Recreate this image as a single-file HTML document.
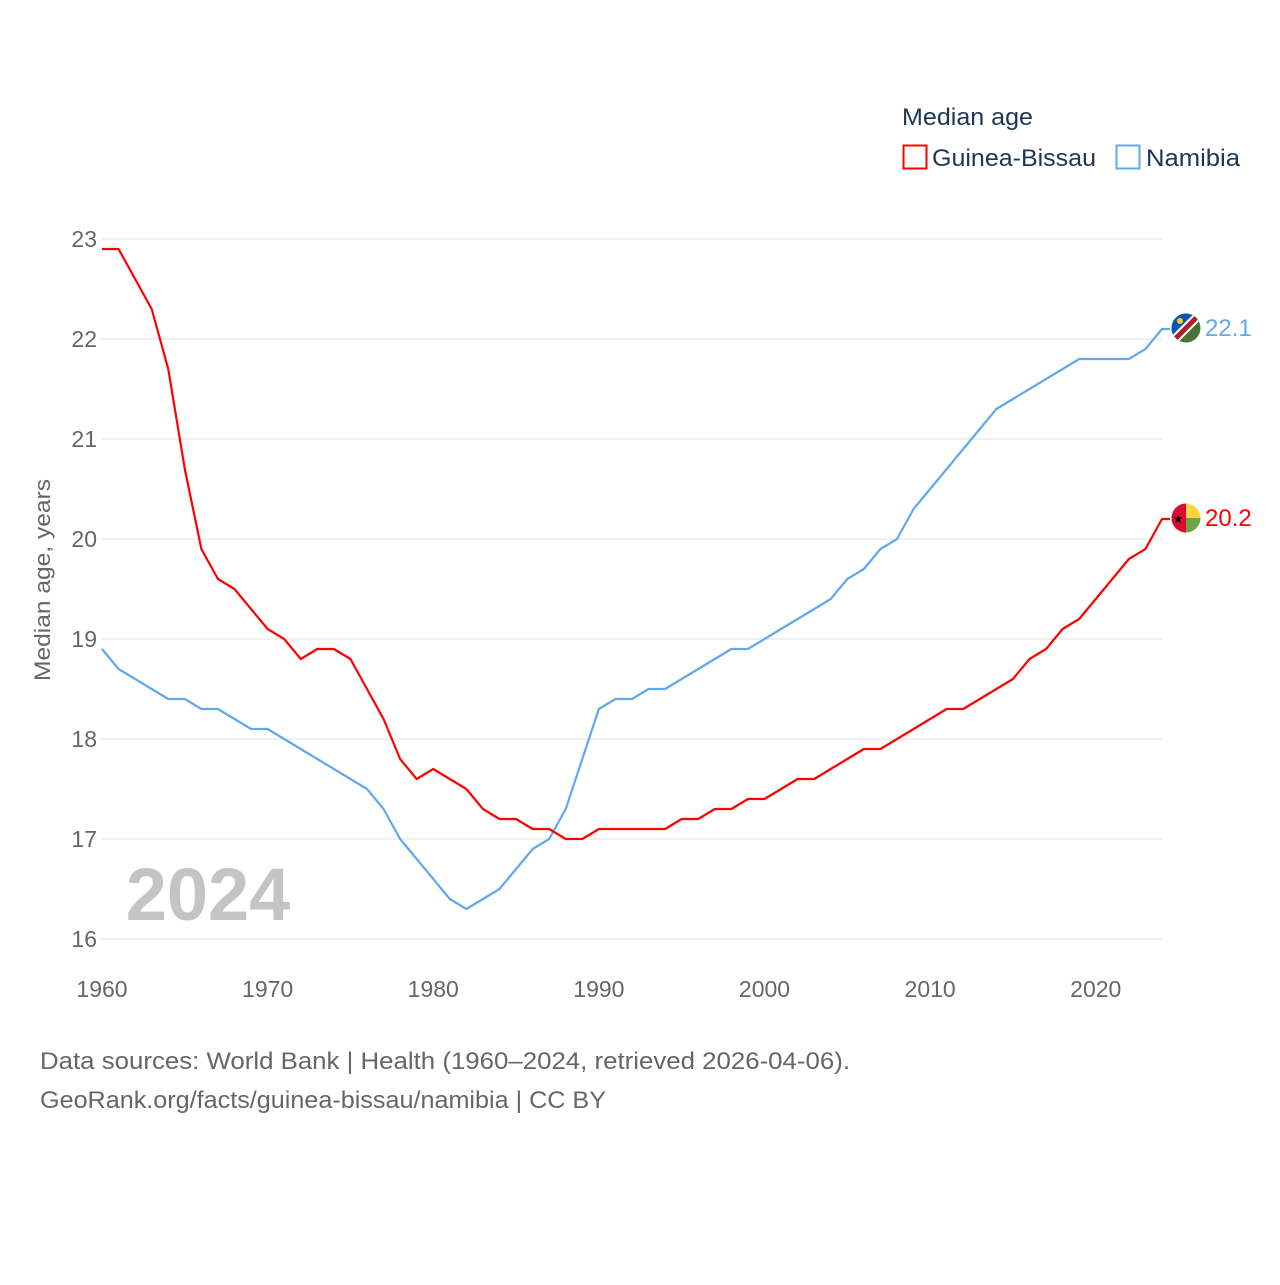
<!DOCTYPE html>
<html><head><meta charset="utf-8"><style>
html,body{margin:0;padding:0;background:#fff;}
svg text{font-family:"Liberation Sans",sans-serif;}
</style></head><body>
<svg id="chart" width="1280" height="1280" viewBox="0 0 1280 1280" xmlns="http://www.w3.org/2000/svg">
<g id="grid"></g>
<g id="yticks"></g>
<g id="xticks"></g>
<text x="208" y="920" font-size="74" font-weight="bold" fill="#c4c4c4" text-anchor="middle">2024</text>
<text transform="translate(50,580) rotate(-90)" font-size="22" fill="#666" text-anchor="middle" textLength="202" lengthAdjust="spacingAndGlyphs">Median age, years</text>
<g id="series"></g>
<g>
<text x="902" y="125" font-size="24" fill="#1d3557" textLength="131" lengthAdjust="spacingAndGlyphs">Median age</text>
<g>
<rect x="903.5" y="145.5" width="23" height="23" fill="none" stroke="#ff0000" stroke-width="2"/>
<text x="932" y="166" font-size="24" fill="#1d3557" textLength="164" lengthAdjust="spacingAndGlyphs">Guinea-Bissau</text></g>
<g>
<rect x="1116.5" y="145.5" width="23" height="23" fill="none" stroke="#62a8ee" stroke-width="2"/>
<text x="1146" y="166" font-size="24" fill="#1d3557" textLength="94" lengthAdjust="spacingAndGlyphs">Namibia</text></g>
</g>
<g>
<clipPath id="cn"><circle cx="1186" cy="328" r="14.5"/></clipPath>
<g clip-path="url(#cn)">
<rect x="1170" y="312" width="32" height="32" fill="#4a7233"/>
<polygon points="1170,312 1202,312 1170,344" fill="#0a56b5"/>
<line x1="1170" y1="344" x2="1202" y2="312" stroke="#fff" stroke-width="9"/>
<line x1="1170" y1="344" x2="1202" y2="312" stroke="#b01e2e" stroke-width="5"/>
<circle cx="1180" cy="321" r="3" fill="#ffce00"/>
</g></g>
<g>
<clipPath id="cg"><circle cx="1186" cy="518" r="14.5"/></clipPath>
<g clip-path="url(#cg)">
<rect x="1170" y="502" width="32" height="16" fill="#fcd53f"/>
<rect x="1170" y="518" width="32" height="16" fill="#6ca344"/>
<rect x="1170" y="502" width="16" height="32" fill="#dc0a32"/>
<text x="1178" y="523" font-size="12" fill="#000" text-anchor="middle">★</text>
</g></g>
<text x="40" y="1069" font-size="24" fill="#666" textLength="810" lengthAdjust="spacingAndGlyphs">Data sources: World Bank | Health (1960–2024, retrieved 2026-04-06).</text>
<text x="40" y="1108" font-size="24" fill="#666" textLength="566" lengthAdjust="spacingAndGlyphs">GeoRank.org/facts/guinea-bissau/namibia | CC BY</text>
</svg>
<script>
const years = [];for(let y=1960;y<=2024;y++)years.push(y);
const guineaBissau=[22.9,22.9,22.6,22.3,21.7,20.7,19.9,19.6,19.5,19.3,19.1,19.0,18.8,18.9,18.9,18.8,18.5,18.2,17.8,17.6,17.7,17.6,17.5,17.3,17.2,17.2,17.1,17.1,17.0,17.0,17.1,17.1,17.1,17.1,17.1,17.2,17.2,17.3,17.3,17.4,17.4,17.5,17.6,17.6,17.7,17.8,17.9,17.9,18.0,18.1,18.2,18.3,18.3,18.4,18.5,18.6,18.8,18.9,19.1,19.2,19.4,19.6,19.8,19.9,20.2];
const namibia=[18.9,18.7,18.6,18.5,18.4,18.4,18.3,18.3,18.2,18.1,18.1,18.0,17.9,17.8,17.7,17.6,17.5,17.3,17.0,16.8,16.6,16.4,16.3,16.4,16.5,16.7,16.9,17.0,17.3,17.8,18.3,18.4,18.4,18.5,18.5,18.6,18.7,18.8,18.9,18.9,19.0,19.1,19.2,19.3,19.4,19.6,19.7,19.9,20.0,20.3,20.5,20.7,20.9,21.1,21.3,21.4,21.5,21.6,21.7,21.8,21.8,21.8,21.8,21.9,22.1];
const yTicks=[16,17,18,19,20,21,22,23];
const xTicks=[1960,1970,1980,1990,2000,2010,2020];
const NS="http://www.w3.org/2000/svg";
const X=y=>102+(y-1960)*(1162-102)/64;
const Y=v=>939-(v-16)*100;
const grid=document.getElementById('grid'),yt=document.getElementById('yticks'),xt=document.getElementById('xticks'),ser=document.getElementById('series');
yTicks.forEach(t=>{
 const l=document.createElementNS(NS,'line');
 
 
 l.setAttribute('x1',101);l.setAttribute('x2',1162);l.setAttribute('y1',Y(t));l.setAttribute('y2',Y(t));
 l.setAttribute('stroke','#e8e8e8');l.setAttribute('stroke-width',1.3);grid.appendChild(l);
 const tx=document.createElementNS(NS,'text');
 
 
 tx.setAttribute('x',97);tx.setAttribute('y',Y(t)+8);tx.setAttribute('text-anchor','end');
 tx.setAttribute('font-size',23);tx.setAttribute('fill','#666');tx.textContent=t;yt.appendChild(tx);
});
xTicks.forEach(t=>{
 const tx=document.createElementNS(NS,'text');
 
 
 tx.setAttribute('x',X(t));tx.setAttribute('y',997);tx.setAttribute('text-anchor','middle');
 tx.setAttribute('font-size',23);tx.setAttribute('fill','#666');tx.textContent=t;xt.appendChild(tx);
});
function draw(vals,color,name){
 const p=document.createElementNS(NS,'polyline');
 
 
 let pts=vals.map((v,i)=>X(years[i])+','+Y(v));
 const last=vals[vals.length-1];
 pts.push((X(2024)+8)+','+Y(last));
 p.setAttribute('points',pts.join(' '));p.setAttribute('fill','none');
 p.setAttribute('stroke',color);p.setAttribute('stroke-width',2.2);p.setAttribute('stroke-linejoin','round');
 ser.appendChild(p);
 const tx=document.createElementNS(NS,'text');
 
 
 tx.setAttribute('x',1205);tx.setAttribute('y',Y(last)+7);tx.setAttribute('font-size',24);
 tx.setAttribute('fill',color);tx.textContent=last.toFixed(1);ser.appendChild(tx);
}
draw(namibia,'#62a8ee','namibia');
draw(guineaBissau,'#ff0000','guinea-bissau');
</script>
</body></html>
